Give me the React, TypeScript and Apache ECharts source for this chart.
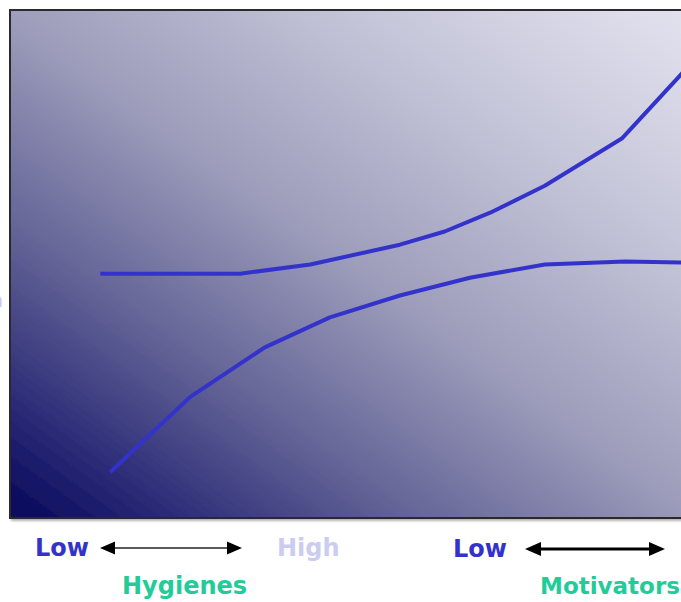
import React, { useEffect, useRef } from "react";
import * as echarts from "echarts";

// x positions along the scale (0-100) and satisfaction level (0-100)
const motivatorX = [12.9, 32.9, 42.9, 55.7, 62.1, 68.6, 76.4, 87.4, 96.2];
const motivatorY = [48.1, 48.1, 49.9, 53.8, 56.4, 60.1, 65.4, 74.7, 87.8];
const hygieneX = [14.3, 25.7, 36.4, 45.7, 55.7, 65.7, 76.4, 87.9, 96.2];
const hygieneY = [9.0, 23.8, 33.6, 39.5, 43.8, 47.3, 49.9, 50.5, 50.3];
const scaleLabels = ["Low", "High", "Low"];
const groupLabels = ["Hygienes", "Motivators"];

export default function App() {
  const ref = useRef<HTMLDivElement>(null);
  useEffect(() => {
    if (!ref.current) return;
    const chart = echarts.init(ref.current, null, { renderer: "svg" });
    const lineColor = "#3333cc";
    const font = "'DejaVu Sans', Verdana, sans-serif";
    chart.setOption({
      animation: false,
      grid: {
        left: 10,
        top: 10,
        width: 700,
        height: 508,
        outerBoundsMode: "none",
        containLabel: false,
        show: true,
        borderColor: "#2a2a2a",
        borderWidth: 2,
        shadowColor: "rgba(0,0,0,0.3)",
        shadowBlur: 2,
        shadowOffsetX: 2,
        shadowOffsetY: 2,
        backgroundColor: new echarts.graphic.LinearGradient(0, 1, 1, 0, [
          { offset: 0, color: "#06065a" },
          { offset: 0.12, color: "#2c2c78" },
          { offset: 0.28, color: "#626296" },
          { offset: 0.5, color: "#9e9ebc" },
          { offset: 0.75, color: "#c6c6da" },
          { offset: 1, color: "#e4e4f0" },
        ]),
      },
      xAxis: {
        type: "value",
        min: 0,
        max: 100,
        show: false,
      },
      yAxis: {
        type: "value",
        min: 0,
        max: 100,
        show: false,
      },
      series: [
        {
          name: "Motivators",
          type: "line",
          data: motivatorX.map((x, i) => [x, motivatorY[i]]),
          symbol: "none",
          lineStyle: { color: lineColor, width: 4 },
        },
        {
          name: "Hygienes",
          type: "line",
          data: hygieneX.map((x, i) => [x, hygieneY[i]]),
          symbol: "none",
          lineStyle: { color: lineColor, width: 4 },
        },
      ],
      graphic: [
        {
          type: "text",
          x: 3,
          y: 300,
          style: {
            text: "Satisfaction",
            align: "right",
            verticalAlign: "middle",
            fill: "#c8c8f8",
            font: `bold 20px ${font}`,
          },
        },
        {
          type: "text",
          x: 35,
          y: 548,
          style: {
            text: scaleLabels[0],
            verticalAlign: "middle",
            fill: "#3333cc",
            font: `bold 24px ${font}`,
          },
        },
        {
          type: "text",
          x: 277,
          y: 548,
          style: {
            text: scaleLabels[1],
            verticalAlign: "middle",
            fill: "#ccccf0",
            font: `bold 24px ${font}`,
          },
        },
        {
          type: "text",
          x: 453,
          y: 549,
          style: {
            text: scaleLabels[2],
            verticalAlign: "middle",
            fill: "#3333cc",
            font: `bold 24px ${font}`,
          },
        },
        {
          type: "text",
          x: 122,
          y: 586,
          style: {
            text: groupLabels[0],
            verticalAlign: "middle",
            fill: "#22cc99",
            font: `bold 24px ${font}`,
          },
        },
        {
          type: "text",
          x: 540,
          y: 586,
          style: {
            text: groupLabels[1],
            verticalAlign: "middle",
            fill: "#22cc99",
            font: `bold 23px ${font}`,
          },
        },
        // first arrow (thin)
        {
          type: "line",
          shape: { x1: 110, y1: 548, x2: 234, y2: 548 },
          style: { stroke: "#222", lineWidth: 1.5 },
        },
        {
          type: "polygon",
          shape: { points: [[100, 548], [115, 541.5], [115, 554.5]] },
          style: { fill: "#000" },
        },
        {
          type: "polygon",
          shape: { points: [[242, 548], [227, 541.5], [227, 554.5]] },
          style: { fill: "#000" },
        },
        // second arrow (thick)
        {
          type: "line",
          shape: { x1: 535, y1: 549, x2: 655, y2: 549 },
          style: { stroke: "#000", lineWidth: 3 },
        },
        {
          type: "polygon",
          shape: { points: [[525, 549], [541, 542], [541, 556]] },
          style: { fill: "#000" },
        },
        {
          type: "polygon",
          shape: { points: [[665, 549], [649, 542], [649, 556]] },
          style: { fill: "#000" },
        },
      ],
    });
    return () => chart.dispose();
  }, []);
  return (
    <div
      ref={ref}
      style={{ position: "fixed", left: 0, top: 0, width: 681, height: 602, background: "#fff" }}
    />
  );
}
